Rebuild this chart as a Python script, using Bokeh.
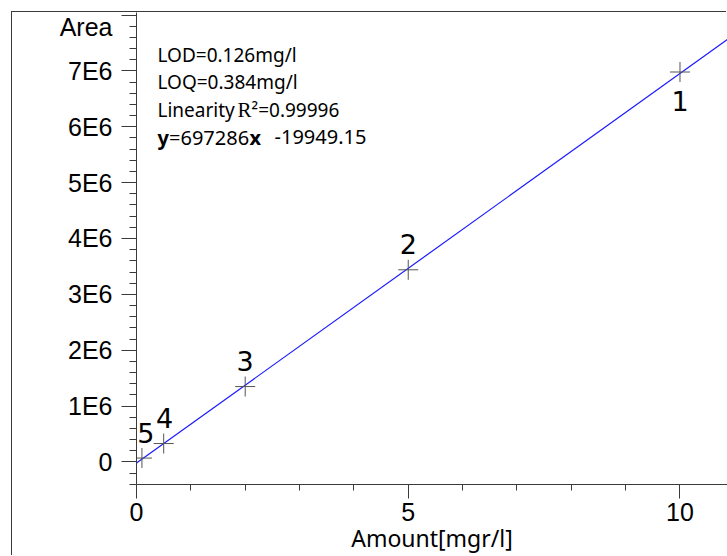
from bokeh.plotting import figure
from bokeh.models import Range1d, FixedTicker, Label, ColumnDataSource, LinearAxis
from bokeh.core.properties import value
from bokeh.embed import file_html
from bokeh.resources import INLINE

# ---- data ----
amount = [10, 5, 2, 0.5, 0.1]
area = [6.98e6, 3.44e6, 1.35e6, 0.33e6, 0.07e6]
point_labels = ["1", "2", "3", "4", "5"]

slope = 697286
intercept = -19949.15
fit_x = [0, 11]
fit_y = [slope * x + intercept for x in fit_x]

x_ticks = [0, 5, 10]
x_tick_labels = ["0", "5", "10"]
x_minor = [1, 2, 3, 4, 6, 7, 8, 9, 11]

y_ticks = [0, 1e6, 2e6, 3e6, 4e6, 5e6, 6e6, 7e6, 8e6]
y_label_ticks = [0, 1e6, 2e6, 3e6, 4e6, 5e6, 6e6, 7e6]
y_tick_labels = ["0", "1E6", "2E6", "3E6", "4E6", "5E6", "6E6", "7E6"]
y_minor = [i * 200000 for i in range(-2, 41) if i % 5 != 0]

info_lines = ["LOD=0.126mg/l", "LOQ=0.384mg/l"]
linearity_text = ["Linearity ", "R", "\u00b2=0.99996"]
equation_parts = ["y", "=697286", "x", "-19949.15"]

x_title = "Amount[mgr/l]"
y_title = "Area"
y_title_pos = 7.8e6

# ---- styling / geometry ----
label_dx = [0, 0, 0, 1, 4]
label_dy = [29, -26, -26, -26, -25]

X0, X1 = 0.0, 10.874
Y0, Y1 = -0.403e6, 8.045e6
FRAME_LEFT, FRAME_TOP, FRAME_W, FRAME_H = 136, 12, 591, 472


def px_x(px):
    return X0 + (px - FRAME_LEFT) / FRAME_W * (X1 - X0)


def px_y(py):
    return Y1 - (py - FRAME_TOP) / FRAME_H * (Y1 - Y0)


p = figure(width=715, height=544, output_backend="svg", toolbar_location=None,
           x_range=Range1d(X0, X1), y_range=Range1d(Y0, Y1),
           min_border_left=124, min_border_right=0, min_border_top=0, min_border_bottom=72)
p.margin = (12, 0, 0, 12)
p.styles = {"box-shadow": "-1px -1px 0 0 #3a3a3a"}
p.outline_line_color = None
p.xgrid.visible = False
p.ygrid.visible = False
p.background_fill_color = "white"
p.border_fill_color = "white"

AX = "#3a3a3a"

# x axis
xa = p.xaxis[0]
xa.ticker = FixedTicker(ticks=x_ticks, minor_ticks=x_minor)
xa.major_label_overrides = {t: l for t, l in zip(x_ticks, x_tick_labels)}
xa.axis_line_color = AX
xa.major_tick_line_color = AX
xa.minor_tick_line_color = AX
xa.major_tick_in = 0
xa.minor_tick_in = 0
xa.major_tick_out = 14
xa.minor_tick_out = 6
xa.major_label_standoff = 4
xa.major_label_text_font = "Liberation Sans"
xa.major_label_text_font_size = "25px"
xa.major_label_text_color = "black"
xa.axis_label = x_title
xa.axis_label_text_font = "Noto Sans"
xa.axis_label_text_font_size = "23px"
xa.axis_label_text_font_style = "normal"
xa.axis_label_text_color = "black"
xa.axis_label_standoff = -2

# y axis with ticks (next to the frame)
ya = p.yaxis[0]
ya.ticker = FixedTicker(ticks=y_ticks, minor_ticks=y_minor)
ya.major_label_overrides = {t: "" for t in y_ticks}
ya.axis_line_color = AX
ya.major_tick_line_color = AX
ya.minor_tick_line_color = AX
ya.major_tick_in = 0
ya.minor_tick_in = 0
ya.major_tick_out = 15
ya.minor_tick_out = 7
ya.major_label_standoff = 0

# y axis carrying the labels and the "Area" title
yb = LinearAxis(ticker=FixedTicker(ticks=y_label_ticks + [y_title_pos], minor_ticks=[]))
yb.major_label_overrides = {**{t: l for t, l in zip(y_label_ticks, y_tick_labels)}, y_title_pos: y_title}
yb.axis_line_color = None
yb.major_tick_line_color = None
yb.minor_tick_line_color = None
yb.major_tick_in = 0
yb.major_tick_out = 0
yb.minor_tick_in = 0
yb.minor_tick_out = 0
yb.major_label_standoff = 9
yb.major_label_text_font = "Liberation Sans"
yb.major_label_text_font_size = "25px"
yb.major_label_text_color = "black"
p.add_layout(yb, "left")

# regression line
p.line(fit_x, fit_y, line_color="#1a1aff", line_width=1.2)

# points
src = ColumnDataSource(dict(x=amount, y=area, lab=point_labels, dx=label_dx, dy=label_dy))
p.scatter("x", "y", source=src, marker="cross", size=20, line_color="#555555", line_width=1)
p.text("x", "y", text="lab", source=src, x_offset="dx", y_offset="dy",
       text_align="center", text_baseline="middle",
       text_font=value("DejaVu Sans"), text_font_size="27px", text_color="black")

# info text
anchor_x = px_x(157)
base = [54, 81.5, 109, 136.5]
for i, t in enumerate(info_lines):
    p.add_layout(Label(x=anchor_x, y=px_y(base[i]), text=t, text_font="Noto Sans",
                       text_font_size="19px", text_color="black", text_baseline="alphabetic"))
lin_off = [0, 80, 94]
lin_font = ["Noto Sans", "Liberation Serif", "Noto Sans"]
lin_size = ["19px", "21px", "19px"]
for t, o, f, s in zip(linearity_text, lin_off, lin_font, lin_size):
    p.add_layout(Label(x=anchor_x, y=px_y(base[2]), x_offset=o, text=t, text_font=f,
                       text_font_size=s, text_color="black", text_baseline="alphabetic"))
eq_off = [0, 11.5, 92, 117]
eq_style = ["bold", "normal", "bold", "normal"]
for t, o, st in zip(equation_parts, eq_off, eq_style):
    p.add_layout(Label(x=anchor_x, y=px_y(base[3]), x_offset=o, text=t, text_font="Noto Sans",
                       text_font_size="20px", text_font_style=st, text_color="black",
                       text_baseline="alphabetic"))

open("out.html", "w").write(file_html(p, INLINE))
